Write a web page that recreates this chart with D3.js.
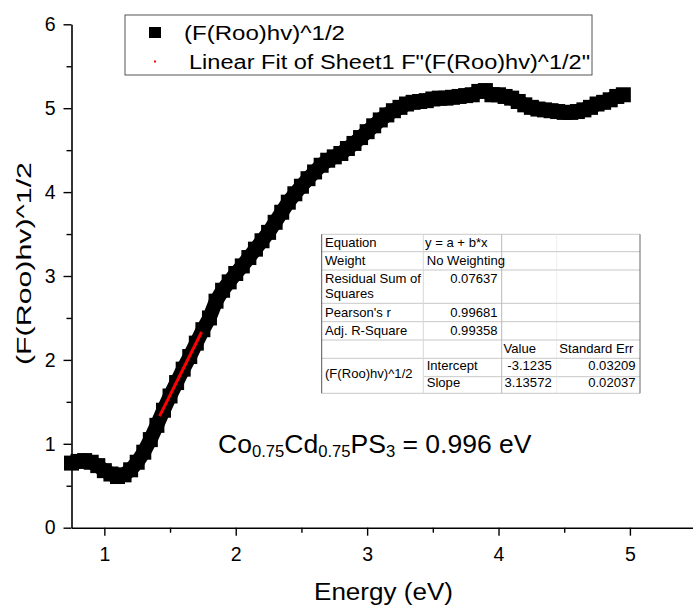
<!DOCTYPE html>
<html><head><meta charset="utf-8">
<script src="https://cdn.jsdelivr.net/npm/d3@7"></script>
<style>html,body{margin:0;padding:0;background:#fff;overflow:hidden}</style>
</head><body><svg id="c" width="693" height="608"></svg>
<script>
// ---- data ----
const energy = [0.75,0.80,0.85,0.90,0.95,1.00,1.05,1.10,1.15,1.20,1.25,1.30,1.35,1.40,1.45,1.50,1.55,1.60,1.65,1.70,
1.75,1.80,1.85,1.90,1.95,2.00,2.05,2.10,2.15,2.20,2.25,2.30,2.35,2.40,2.45,2.50,2.55,2.60,2.65,2.70,
2.75,2.80,2.85,2.90,2.95,3.00,3.05,3.10,3.15,3.20,3.25,3.30,3.35,3.40,3.45,3.50,3.55,3.60,3.65,3.70,
3.75,3.80,3.85,3.90,3.95,4.00,4.05,4.10,4.15,4.20,4.25,4.30,4.35,4.40,4.45,4.50,4.55,4.60,4.65,4.70,
4.75,4.80,4.85,4.90,4.95];
const sqrtFhv = [0.77,0.79,0.80,0.78,0.74,0.68,0.64,0.61,0.63,0.69,0.78,0.90,1.05,1.22,1.40,1.57,1.73,1.89,2.04,2.20,
2.36,2.50,2.70,2.83,2.93,3.03,3.12,3.22,3.32,3.42,3.52,3.64,3.76,3.88,3.98,4.07,4.16,4.24,4.32,4.38,
4.42,4.46,4.52,4.58,4.65,4.72,4.79,4.86,4.92,4.97,5.01,5.05,5.07,5.08,5.09,5.11,5.12,5.12,5.13,5.14,
5.15,5.16,5.20,5.21,5.16,5.16,5.14,5.12,5.08,5.04,5.01,4.99,4.98,4.97,4.96,4.95,4.95,4.96,4.98,5.01,
5.05,5.07,5.10,5.14,5.16];
const fitIntercept = -3.1235, fitSlope = 3.13572;
const fitRange = [1.42, 1.74];
const xMajor = [1,2,3,4,5];
const xMinor = [1.5,2.5,3.5,4.5,5.5];
const yMajor = [0,1,2,3,4,5,6];
const yMinor = [0.5,1.5,2.5,3.5,4.5,5.5];
const legendLabels = ['(F(Roo)hv)^1/2', 'Linear Fit of Sheet1 F"(F(Roo)hv)^1/2"'];
const tableCol1 = ['Equation','Weight','Residual Sum of|Squares',"Pearson's r",'Adj. R-Square'];
const tableCol2 = ['y = a + b*x','No Weighting','0.07637','0.99681','0.99358'];
const paramHeader = ['Value','Standard Err'];
const paramNames = ['Intercept','Slope'];
const paramValues = ['-3.1235','3.13572'];
const paramErrors = ['0.03209','0.02037'];
const seriesName = '(F(Roo)hv)^1/2';

const FONT = '"Liberation Sans", Arial, sans-serif';
const svg = d3.select('#c');
svg.append('rect').attr('width',693).attr('height',608).attr('fill','#fff');

const x = d3.scaleLinear().domain([0.75, 5.5]).range([71.5, 695.6]);
const y = d3.scaleLinear().domain([0, 6]).range([527.7, 24.3]);

// ---- axes ----
const gx = svg.append('g').attr('transform','translate(0,527.7)');
gx.call(d3.axisBottom(x).tickValues(xMajor).tickSize(8).tickSizeOuter(0).tickPadding(11).tickFormat(d3.format('d')));
const gxm = svg.append('g').attr('transform','translate(0,527.7)');
gxm.call(d3.axisBottom(x).tickValues(xMinor).tickSize(5).tickSizeOuter(0).tickFormat(''));
gxm.select('.domain').remove();
const gy = svg.append('g').attr('transform','translate(71.5,0)');
gy.call(d3.axisLeft(y).tickValues(yMajor).tickSize(8).tickSizeOuter(0).tickPadding(8).tickFormat(d3.format('d')));
const gym = svg.append('g').attr('transform','translate(71.5,0)');
gym.call(d3.axisLeft(y).tickValues(yMinor).tickSize(5).tickSizeOuter(0).tickFormat(''));
gym.select('.domain').remove();
svg.selectAll('.domain').attr('stroke','#000').attr('stroke-width',1.6);
svg.selectAll('.tick line').attr('stroke','#000').attr('stroke-width',1.4);
svg.selectAll('.tick text').attr('font-family',FONT).attr('font-size',19.5).attr('fill','#000');

// axis titles
svg.append('text').attr('x',314).attr('y',600).attr('font-family',FONT).attr('font-size',23)
  .attr('textLength',139).attr('lengthAdjust','spacingAndGlyphs').text('Energy (eV)');
svg.append('text').attr('transform','translate(30.5,365) rotate(-90)').attr('font-family',FONT).attr('font-size',20.5)
  .attr('textLength',203).attr('lengthAdjust','spacingAndGlyphs').text(seriesName);

// ---- data series ----
const pts = energy.map((e,i)=>[e, sqrtFhv[i]]);
svg.append('path').datum(pts)
  .attr('d', d3.line().x(d=>x(d[0])).y(d=>y(d[1])))
  .attr('fill','none').attr('stroke','#000').attr('stroke-width',14.5).attr('stroke-linejoin','round');
const S = 15;
svg.append('g').selectAll('rect').data(pts).join('rect')
  .attr('x', d=>x(d[0])-S/2).attr('y', d=>y(d[1])-S/2).attr('width',S).attr('height',S).attr('fill','#000');

// fit line
svg.append('line')
  .attr('x1', x(fitRange[0])).attr('y1', y(fitIntercept + fitSlope*fitRange[0]))
  .attr('x2', x(fitRange[1])).attr('y2', y(fitIntercept + fitSlope*fitRange[1]))
  .attr('stroke','#ff0000').attr('stroke-width',3);

// ---- legend ----
const lg = svg.append('g');
lg.append('rect').attr('x',125).attr('y',15).attr('width',467).attr('height',60)
  .attr('fill','#fff').attr('stroke','#555').attr('stroke-width',1);
lg.append('rect').attr('x',149).attr('y',27).attr('width',12).attr('height',11).attr('fill','#000');
lg.append('rect').attr('x',154).attr('y',60.5).attr('width',2).attr('height',2).attr('fill','#ff0000');
lg.append('text').attr('x',184).attr('y',40).attr('font-family',FONT).attr('font-size',19.5)
  .attr('textLength',161).attr('lengthAdjust','spacingAndGlyphs').text(legendLabels[0]);
lg.append('text').attr('x',189).attr('y',69).attr('font-family',FONT).attr('font-size',19.5)
  .attr('textLength',401).attr('lengthAdjust','spacingAndGlyphs').text(legendLabels[1]);

// ---- table ----
const tb = svg.append('g');
const L=321.7, R=640, C1=423.3, C2=501.7, C3=556.7;
const rowsY = [234.3,251.7,270,303.3,321.7,340,358.3,376.7,393.3];
tb.append('rect').attr('x',L).attr('y',rowsY[0]).attr('width',R-L).attr('height',rowsY[8]-rowsY[0]).attr('fill','#fff');
rowsY.forEach((ry,i)=>{
  const x0 = (i===7)? C1 : L;
  tb.append('line').attr('x1',x0).attr('x2',R).attr('y1',ry).attr('y2',ry).attr('stroke','#c8c8c8').attr('stroke-width',1);
});
tb.append('line').attr('x1',C1).attr('x2',C1).attr('y1',rowsY[0]).attr('y2',rowsY[8]).attr('stroke','#d8d8d8');
tb.append('line').attr('x1',C2).attr('x2',C2).attr('y1',rowsY[0]).attr('y2',rowsY[8]).attr('stroke','#b8b8b8');
tb.append('line').attr('x1',C3).attr('x2',C3).attr('y1',rowsY[0]).attr('y2',rowsY[8]).attr('stroke','#dcdcdc').attr('stroke-dasharray','1,1');
tb.append('line').attr('x1',L).attr('x2',L).attr('y1',rowsY[0]).attr('y2',rowsY[8]).attr('stroke','#555');
tb.append('line').attr('x1',R).attr('x2',R).attr('y1',rowsY[0]).attr('y2',rowsY[8]).attr('stroke','#666');

function cell(txt, xx, yy, anchor){
  tb.append('text').attr('transform',`translate(${xx},${yy}) scale(1.1,1)`)
    .attr('font-family',FONT).attr('font-size',11.9).attr('fill','#000')
    .attr('text-anchor',anchor||'start').text(txt);
}
const base1 = [246.7,265,283.3,316.7,335];
tableCol1.forEach((t,i)=>{
  const parts = t.split('|');
  parts.forEach((p,j)=>cell(p, 325, base1[i]+j*15));
});
tableCol2.forEach((t,i)=>{
  if(i<2) cell(t, i===0?425:426.7, base1[i]);
  else cell(t, 497.5, base1[i], 'end');
});
cell(paramHeader[0], 503.5, 353.3);
cell(paramHeader[1], 559.3, 353.3);
cell(paramNames[0], 426.7, 370);
cell(paramNames[1], 426.7, 386.7);
cell(paramValues[0], 551.7, 370, 'end');
cell(paramValues[1], 551.7, 386.7, 'end');
cell(paramErrors[0], 635.5, 370, 'end');
cell(paramErrors[1], 635.5, 386.7, 'end');
cell(seriesName, 325, 378.3);

// ---- annotation ----
const an = svg.append('text').attr('transform','translate(218,453.3) scale(1.04,1)')
  .attr('font-family',FONT).attr('font-size',25.5).attr('fill','#000');
an.append('tspan').text('Co');
an.append('tspan').attr('font-size',16).attr('dy',4).text('0.75');
an.append('tspan').attr('dy',-4).text('Cd');
an.append('tspan').attr('font-size',16).attr('dy',4).text('0.75');
an.append('tspan').attr('dy',-4).text('PS');
an.append('tspan').attr('font-size',16).attr('dy',4).text('3');
an.append('tspan').attr('dy',-4).text(' = 0.996 eV');
</script></body></html>
